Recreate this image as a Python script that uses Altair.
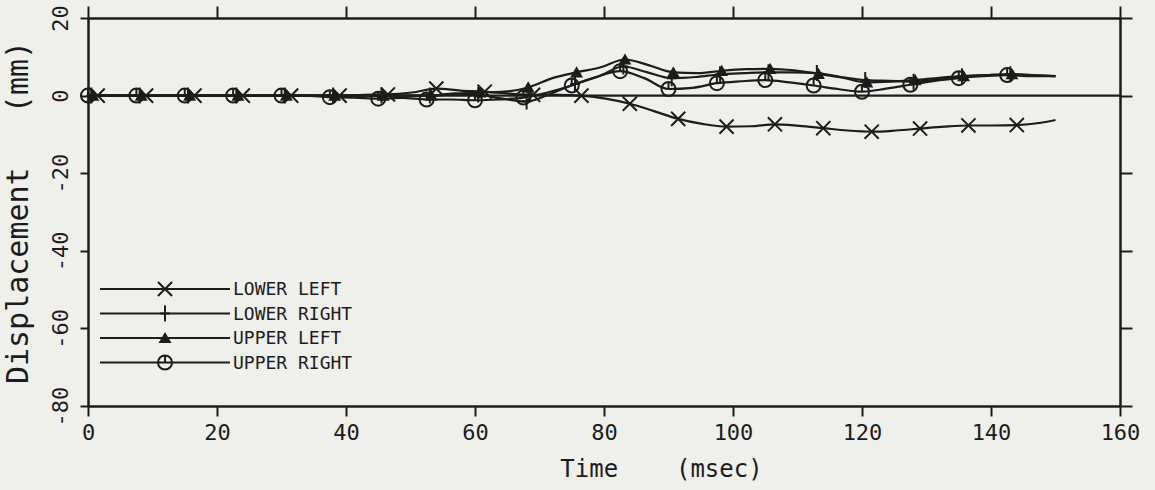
import altair as alt
import pandas as pd

# shared sample times (ms); every other one carries a marker
T = [0, 3.75, 7.5, 11.25, 15, 18.75, 22.5, 26.25, 30, 33.75, 37.5, 41.25, 45, 48.75,
     52.5, 56.25, 60, 63.75, 67.5, 71.25, 75, 78.75, 82.5, 86.25, 90, 93.75, 97.5,
     101.25, 105, 108.75, 112.5, 116.25, 120, 123.75, 127.5, 131.25, 135, 138.75,
     142.5, 146.25, 150]

SERIES = ["LOWER LEFT", "LOWER RIGHT", "UPPER LEFT", "UPPER RIGHT"]
SHIFT = {"LOWER LEFT": 1.5, "LOWER RIGHT": 0.5, "UPPER LEFT": 0.75, "UPPER RIGHT": 0.0}

LOWER_LEFT = [0, 0, 0, 0, 0, 0, 0, 0, 0, 0, 0, 0.2, 0.3, 0.8, 1.8, 1.3, 1.0, 0.5, 0.2, 0.2,
              0.0, -0.8, -2.1, -4.0, -6.0, -7.3, -8.0, -7.9, -7.4, -7.8, -8.4, -9.0, -9.3,
              -9.0, -8.5, -8.0, -7.7, -7.7, -7.6, -7.0, -6.3]
LOWER_RIGHT = [0, 0, 0, 0, 0, 0, 0, 0, 0, 0, 0, 0, 0, 0, 0, 0.5, 0.3, -0.8, -1.5, 0.5,
               3.0, 5.0, 7.5, 6.0, 4.5, 4.8, 5.5, 5.8, 6.0, 6.0, 5.8, 4.8, 4.0, 3.8, 3.6,
               4.2, 5.0, 5.3, 5.5, 5.2, 5.0]
UPPER_LEFT = [0, 0, 0, 0, 0, 0, 0, 0, 0, 0, 0, 0, 0, 0, 0, 0.5, 0.8, 1.0, 2.1, 4.5,
              6.0, 7.3, 9.3, 7.8, 6.0, 5.8, 6.4, 6.8, 6.9, 6.5, 5.6, 4.6, 3.4, 3.6, 4.0,
              4.6, 5.0, 5.3, 5.5, 5.2, 5.0]
UPPER_RIGHT = [0, 0, 0, 0, 0, 0, 0, 0, 0, 0, -0.4, -0.5, -0.8, -0.6, -1.0, -1.0, -1.2,
               -1.0, -0.5, 0.8, 2.6, 4.8, 6.3, 4.5, 1.7, 2.0, 3.2, 3.7, 4.0, 3.4, 2.6,
               1.7, 1.0, 1.8, 2.8, 3.8, 4.5, 5.0, 5.3, 5.0, 5.0]

X_TICKS = [0, 20, 40, 60, 80, 100, 120, 140, 160]
Y_TICKS = [-80, -60, -40, -20, 0, 20]

VALUES = {"LOWER LEFT": LOWER_LEFT, "LOWER RIGHT": LOWER_RIGHT,
          "UPPER LEFT": UPPER_LEFT, "UPPER RIGHT": UPPER_RIGHT}

SHAPES = {
    "LOWER LEFT": "M-1,-1L1,1M1,-1L-1,1",
    "LOWER RIGHT": "M-0.6,0L0.6,0M0,-1L0,1",
    "UPPER LEFT": "triangle-up",
    "UPPER RIGHT": "M-1,0A1,1 0 1,0 1,0A1,1 0 1,0 -1,0M0,-1L0,0",
}
SIZES = {"LOWER LEFT": 200, "LOWER RIGHT": 256, "UPPER LEFT": 90, "UPPER RIGHT": 196}

rows = []
for s in SERIES:
    for i, (t, v) in enumerate(zip(T, VALUES[s])):
        tt = min(t + SHIFT[s], 150.0)
        rows.append({"series": s, "t": tt, "v": v, "i": i,
                     "marker": (i % 2 == 0) and i < len(T) - 1})
df = pd.DataFrame(rows)
# start every line at t=0
starts = pd.DataFrame([{"series": s, "t": 0.0, "v": VALUES[s][0], "i": -1, "marker": False}
                       for s in SERIES if SHIFT[s] > 0])
df_line = pd.concat([starts, df]).sort_values(["series", "t"])

INK = "#1c1c1c"
FONT = "DejaVu Sans Mono"
BG = "#efefeb"

xs = alt.Scale(domain=[0, 160], nice=False, zero=False)
ys = alt.Scale(domain=[-80, 20], nice=False, zero=False)

x_bottom = alt.X("t:Q", scale=xs, axis=alt.Axis(
    values=X_TICKS, orient="bottom", title="Time\u00a0\u00a0\u00a0\u00a0(msec)",
    titleFont=FONT, titleFontSize=24, titleFontWeight="normal", titleColor=INK,
    titlePadding=14, titleX=573, titleAlign="center",
    labelFont=FONT, labelFontSize=22, labelColor=INK,
    labelExpr="toString(datum.value)",
    labelPadding=6, tickSize=10, tickWidth=2, tickColor=INK,
    domainColor=INK, domainWidth=2.5, grid=False, labelFlush=False))
y_left = alt.Y("v:Q", scale=ys, axis=alt.Axis(
    values=Y_TICKS, orient="left", title="Displacement\u00a0\u00a0\u00a0(mm)",
    titleFont=FONT, titleFontSize=30, titleFontWeight="normal", titleColor=INK,
    titlePadding=16, labelFont=FONT, labelFontSize=22, labelColor=INK,
    labelExpr="toString(datum.value)",
    labelAngle=270, labelAlign="center", labelBaseline="bottom",
    labelPadding=8, tickSize=8, tickWidth=2, tickColor=INK,
    domainColor=INK, domainWidth=2.5, grid=False, labelFlush=False))

lines = alt.Chart(df_line).mark_line(
    interpolate="monotone", color=INK, strokeWidth=2.2
).encode(x=x_bottom, y=y_left, detail="series:N", order="t:Q")

# zero line, also carrying the top and right frame axes
zero = alt.Chart(pd.DataFrame({"t": [0.0, 160.0], "v": [0.0, 0.0]})).mark_line(
    color=INK, strokeWidth=2.2
).encode(
    x=alt.X("t:Q", scale=xs, axis=alt.Axis(
        values=X_TICKS, orient="top", labels=False, title=None, tickSize=12,
        tickWidth=2, tickColor=INK, domainColor=INK, domainWidth=2.5, grid=False)),
    y=alt.Y("v:Q", scale=ys, axis=alt.Axis(
        values=Y_TICKS, orient="right", labels=False, title=None, tickSize=12,
        tickWidth=2, tickColor=INK, domainColor=INK, domainWidth=2.5, grid=False)),
)

layers = [lines, zero]
for s in SERIES:
    sub = df[(df.series == s) & (df.marker)]
    if s == "UPPER LEFT":
        mk = alt.Chart(sub).mark_point(shape=SHAPES[s], size=SIZES[s], filled=True,
                                       fill=INK, stroke=INK, strokeWidth=2, opacity=1)
    else:
        mk = alt.Chart(sub).mark_point(shape=SHAPES[s], size=SIZES[s], filled=False,
                                       stroke=INK, strokeWidth=2, opacity=1)
    layers.append(mk.encode(x=alt.X("t:Q", scale=xs, axis=None),
                            y=alt.Y("v:Q", scale=ys, axis=None)))

# legend drawn inside the plot, lower left
leg_src = pd.DataFrame({"label": SERIES})
for k, s in enumerate(SERIES):
    yy = 271 + 24.5 * k
    src = leg_src[leg_src.label == s]
    layers.append(alt.Chart(src).mark_rule(color=INK, strokeWidth=2).encode(
        x=alt.value(12), x2=alt.value(142), y=alt.value(yy)))
    if s == "UPPER LEFT":
        pm = alt.Chart(src).mark_point(shape=SHAPES[s], size=SIZES[s], filled=True,
                                       fill=INK, stroke=INK, strokeWidth=2, opacity=1)
    else:
        pm = alt.Chart(src).mark_point(shape=SHAPES[s], size=SIZES[s], filled=False,
                                       stroke=INK, strokeWidth=2, opacity=1)
    layers.append(pm.encode(x=alt.value(77), y=alt.value(yy)))
    layers.append(alt.Chart(src).mark_text(
        align="left", baseline="middle", font=FONT, fontSize=18, color=INK
    ).encode(x=alt.value(145), y=alt.value(yy + 1), text="label:N"))

chart = alt.layer(*layers).resolve_axis(x="independent", y="independent").properties(
    width=1032, height=388,
    autosize=alt.AutoSizeParams(type="none"),
    padding={"left": 88, "top": 18, "right": 35, "bottom": 84},
    background=BG,
).configure_view(stroke=None)

chart.save("out.html", embed_options={"renderer": "svg", "actions": False})
